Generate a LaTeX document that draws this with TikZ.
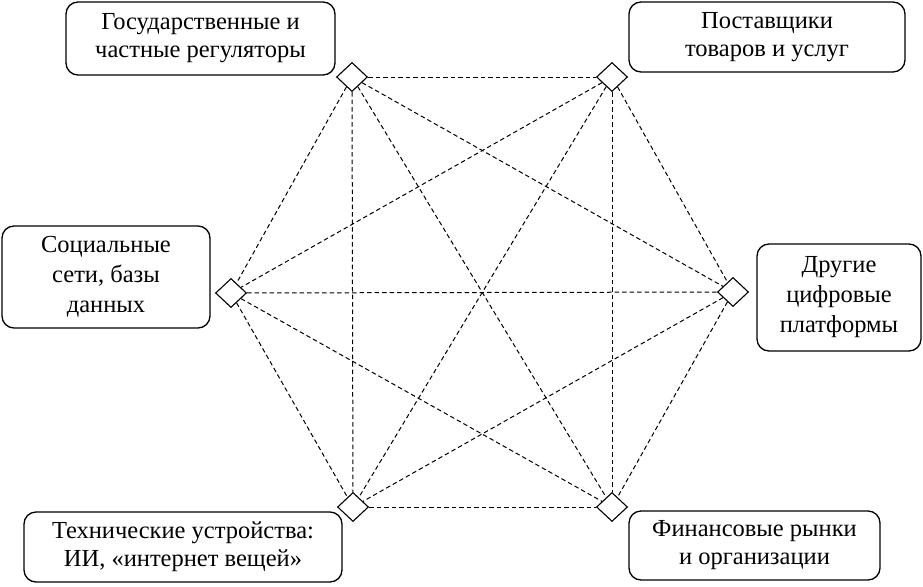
\documentclass[tikz,border=0pt]{standalone}
\usepackage{fontspec}
\setmainfont{Liberation Serif}
\usetikzlibrary{shapes.geometric}
\begin{document}
\begin{tikzpicture}[x=1pt,y=-1pt,
  actor/.style={draw,line width=1.3pt,rounded corners=12pt,align=center,inner sep=0pt,
    font=\fontsize{24.5}{28}\selectfont},
  tall/.style={font=\fontsize{24.5}{30}\selectfont},
  port/.style={draw,line width=1.1pt,diamond,fill=white,minimum width=31pt,minimum height=29pt,inner sep=0pt,aspect=1.07},
  link/.style={dashed,dash pattern=on 4.5pt off 3pt,line width=1pt}]
\useasboundingbox (0,0) rectangle (923,586);
\node[actor,minimum width=269pt,minimum height=73pt] (b1) at (200.5,38.5) {Государственные и\\частные регуляторы};
\node[actor,minimum width=276pt,minimum height=70pt] (b2) at (767,37) {Поставщики\\товаров и услуг};
\node[actor,tall,minimum width=208pt,minimum height=102pt] (b3) at (106,277) {Социальные\\сети, базы\\данных};
\node[actor,tall,minimum width=164pt,minimum height=107pt] (b4) at (839,297.5) {Другие\\цифровые\\платформы};
\node[actor,minimum width=318pt,minimum height=70pt] (b5) at (183,547) {Технические устройства:\\ИИ, «интернет вещей»};
\node[actor,minimum width=251pt,minimum height=69pt] (b6) at (754.5,545.5) {Финансовые рынки\\и организации};
\node[port] (d1) at (352,77) {};
\node[port] (d2) at (612,77) {};
\node[port] (d3) at (231,293) {};
\node[port] (d4) at (733,292) {};
\node[port] (d5) at (353,507) {};
\node[port] (d6) at (612,507) {};
\foreach \a/\b in {d1/d2,d1/d3,d1/d4,d1/d5,d1/d6,d2/d3,d2/d4,d2/d5,d2/d6,d3/d4,d3/d5,d3/d6,d4/d5,d4/d6,d5/d6}
  \draw[link] (\a) -- (\b);
\end{tikzpicture}
\end{document}
